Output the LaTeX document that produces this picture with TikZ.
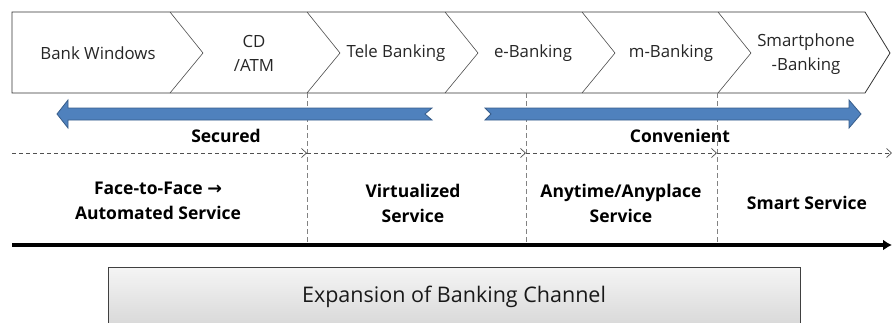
\documentclass[tikz,border=0pt]{standalone}
\usepackage{fontspec}
\setmainfont{Open Sans}
\newfontfamily\symfont{DejaVu Sans}
\usetikzlibrary{arrows.meta}
\definecolor{bluefill}{RGB}{79,129,189}
\definecolor{blueline}{RGB}{56,93,138}
\definecolor{sepgray}{RGB}{130,130,130}
\definecolor{dashgray}{RGB}{80,80,80}
\tikzset{
  striplabel/.style={font=\fontsize{16.8}{24}\selectfont, align=center, text=black!85},
  phaselabel/.style={font=\bfseries\fontsize{17.5}{25}\selectfont, align=center},
  sepline/.style={draw=sepgray, dash pattern=on 5pt off 3pt, line width=0.6pt},
  flowdash/.style={draw=dashgray, dash pattern=on 4pt off 3pt, line width=0.7pt, -{Straight Barb[length=5pt,width=9pt]}},
  bluearrow/.style={fill=bluefill, draw=blueline, line width=0.8pt},
}
\begin{document}
\begin{tikzpicture}[x=1pt,y=-1pt]
\useasboundingbox (0,0) rectangle (892,322);
% chevron strip
\draw[line width=0.8pt, draw=black!80] (12,12) -- (865,12) -- (890,53) -- (865,93) -- (12,93) -- cycle;
\foreach \b in {170,307,445,582,718}{
  \draw[line width=0.6pt, draw=black!70] (\b,12) -- (\b+33,53) -- (\b,93);
}
\node[striplabel] (bw) at (98,53) {Bank Windows};
\node[striplabel] (atm) at (254,53) {CD\\/ATM};
\node[striplabel] (tele) at (396,53) {Tele Banking};
\node[striplabel] (eb) at (533,53) {e-Banking};
\node[striplabel] (mb) at (671,53) {m-Banking};
\node[striplabel] (sb) at (806,54) {Smartphone\\-Banking};
% separators
\coordinate (s1t) at (307,93); \coordinate (s1b) at (307,245);
\coordinate (s2t) at (526,93); \coordinate (s2b) at (526,245);
\coordinate (s3t) at (717,93); \coordinate (s3b) at (717,245);
\draw[sepline] (s1t) -- (s1b);
\draw[sepline] (s2t) -- (s2b);
\draw[sepline] (s3t) -- (s3b);
% blue arrows
\draw[bluearrow] (57,114) -- (68,100) -- (68,108) -- (432,108) -- (425,114) -- (432,120) -- (68,120) -- (68,128) -- cycle;
\draw[bluearrow] (861,114) -- (849,100) -- (849,108) -- (485,108) -- (491,114) -- (485,120) -- (849,120) -- (849,128) -- cycle;
\node[phaselabel] (sec) at (226,136) {Secured};
\node[phaselabel] (conv) at (680,136) {Convenient};
% dashed flow
\coordinate (d0) at (12,153);
\coordinate (d1) at (307,153);
\coordinate (d2) at (526,153);
\coordinate (d3) at (717,153);
\coordinate (d4) at (892,153);
\draw[flowdash] (d0) -- (d1);
\draw[flowdash] (d1) -- (d2);
\draw[flowdash] (d2) -- (d3);
\draw[flowdash] (d3) -- (d4);
% phases
\node[phaselabel] (p1) at (158,201) {Face-to-Face {\symfont\bfseries →}\\Automated Service};
\node[phaselabel] (p2) at (413,203) {Virtualized\\Service};
\node[phaselabel] (p3) at (621,203) {Anytime/Anyplace\\Service};
\node[phaselabel] (p4) at (807,203) {Smart Service};
% thick time axis
\coordinate (t0) at (12,245);
\coordinate (t1) at (892,245);
\draw[line width=3.5pt, -{Latex[length=9pt,width=11pt]}] (t0) -- (t1);
% bottom box
\shade[top color=gray!8, bottom color=gray!32, draw=black!75, line width=0.7pt] (108,267) rectangle (800,330);
\node[font=\fontsize{21.5}{24}\selectfont, text=black!90] (title) at (454,297) {Expansion of Banking Channel};
\end{tikzpicture}
\end{document}
